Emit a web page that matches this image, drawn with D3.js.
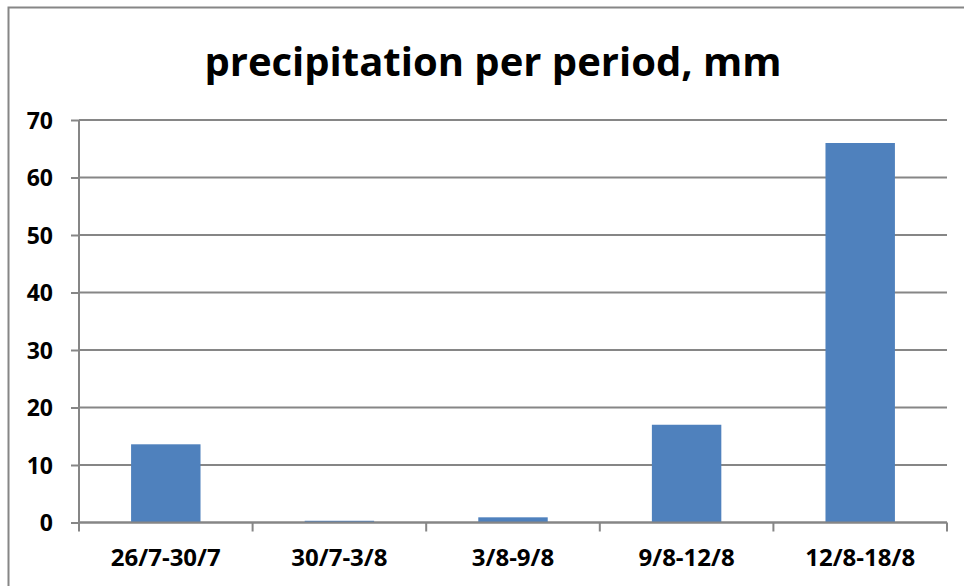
<!DOCTYPE html>
<html>
<head>
<meta charset="utf-8">
<script src="https://cdn.jsdelivr.net/npm/d3@7"></script>
<style>
  body { margin: 0; background: #fff; }
  text { font-family: "Open Sans", "Liberation Sans", sans-serif; font-weight: bold; fill: #000; }
</style>
</head>
<body>
<script>
// data
var periods = ["26/7-30/7", "30/7-3/8", "3/8-9/8", "9/8-12/8", "12/8-18/8"];
var precip = [13.6, 0.3, 0.9, 17.0, 66.0];
var yTicks = [0, 10, 20, 30, 40, 50, 60, 70];
var chartTitle = "precipitation per period, mm";

var W = 964, H = 586;
var plot = { left: 79, right: 947, top: 120, bottom: 522.5 };
var grey = "#868686";

var svg = d3.select("body")
  .append("svg")
  .attr("width", W)
  .attr("height", H);

// outer chart border (right and bottom sides run off the picture)
svg.append("rect")
  .attr("x", 8.5).attr("y", 7.5)
  .attr("width", 1000).attr("height", 700)
  .attr("fill", "none")
  .attr("stroke", grey)
  .attr("stroke-width", 2);

svg.append("text")
  .attr("x", 493)
  .attr("y", 76)
  .attr("text-anchor", "middle")
  .style("font-size", "40px")
  .text(chartTitle);

var x = d3.scaleBand()
  .domain(periods)
  .range([plot.left, plot.right])
  .paddingInner(0.6)
  .paddingOuter(0.3);

var y = d3.scaleLinear()
  .domain([0, 70])
  .range([plot.bottom, plot.top]);

// y ticks + labels
var yAxis = svg.append("g")
  .attr("transform", "translate(" + plot.left + ",0)")
  .call(d3.axisLeft(y).tickValues(yTicks).tickSize(8).tickPadding(18));
yAxis.select(".domain").remove();
yAxis.selectAll("line").attr("stroke", grey).attr("stroke-width", 2);
yAxis.selectAll("text").style("font-size", "23px").attr("dy", "0.36em");

// gridlines
svg.append("g")
  .selectAll("line")
  .data(yTicks)
  .join("line")
  .attr("x1", plot.left).attr("x2", plot.right)
  .attr("y1", function (d) { return y(d); })
  .attr("y2", function (d) { return y(d); })
  .attr("stroke", grey)
  .attr("stroke-width", 2);

// y axis line
svg.append("line")
  .attr("x1", plot.left).attr("x2", plot.left)
  .attr("y1", plot.top).attr("y2", plot.bottom)
  .attr("stroke", grey).attr("stroke-width", 2);

// bars
svg.append("g")
  .selectAll("rect")
  .data(precip)
  .join("rect")
  .attr("x", function (d, i) { return x(periods[i]); })
  .attr("width", x.bandwidth())
  .attr("y", function (d) { return y(d); })
  .attr("height", function (d) { return y(0) - y(d); })
  .attr("fill", "#4F81BD");

// x axis: ticks sit on the band edges
var edges = periods.map(function (p) { return x(p) - x.step() * x.paddingInner() / 2; });
edges[0] = plot.left;
edges.push(plot.right);

var xAxis = svg.append("g");
xAxis.append("line")
  .attr("x1", plot.left).attr("x2", plot.right)
  .attr("y1", plot.bottom).attr("y2", plot.bottom)
  .attr("stroke", grey).attr("stroke-width", 2);
xAxis.selectAll("line.tick")
  .data(edges)
  .join("line")
  .attr("class", "tick")
  .attr("x1", function (d) { return d; }).attr("x2", function (d) { return d; })
  .attr("y1", plot.bottom).attr("y2", plot.bottom + 9)
  .attr("stroke", grey).attr("stroke-width", 2);
xAxis.selectAll("text")
  .data(periods)
  .join("text")
  .attr("x", function (d) { return x(d) + x.bandwidth() / 2; })
  .attr("y", 566)
  .attr("text-anchor", "middle")
  .style("font-size", "24px")
  .text(function (d) { return d; });
</script>
</body>
</html>
